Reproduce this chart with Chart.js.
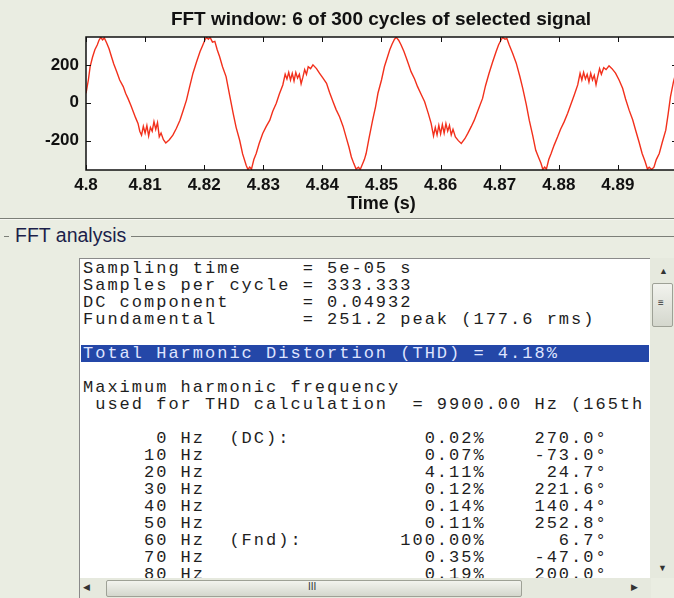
<!DOCTYPE html>
<html>
<head>
<meta charset="utf-8">
<script src="https://cdn.jsdelivr.net/npm/chart.js@4.4.0/dist/chart.umd.min.js"></script>
<style>
  body { margin:0; width:674px; height:598px; overflow:hidden; background:#eaede2; position:relative; font-family:"Liberation Sans", Arial, sans-serif; }
  #plot { position:absolute; left:0; top:0; width:762px; height:215px; }
  .hline { position:absolute; height:1px; background:#7c7f78; }
  #grp { position:absolute; left:15px; top:223px; font-size:19.5px; color:#1c1f4a; line-height:24px; }
  #box { position:absolute; left:79px; top:258px; width:570px; height:320px; background:#fff; border-top:1px solid #8a8a8a; border-left:1px solid #8a8a8a; overflow:hidden; }
  #txt { margin:0; padding:1px 0 0 3px; font-family:"Liberation Mono","Courier New",monospace; font-size:17px; letter-spacing:2px; line-height:17px; color:#1e1e1e; white-space:pre; }
  #txt .hl { background:#2447a8; color:#dfe4ff; margin-left:-2px; padding-left:2px; width:566px; }
  #vbar { position:absolute; left:650px; top:258px; width:24px; height:320px; background:#e6e9de; }
  #hbar { position:absolute; left:79px; top:578px; width:571px; height:20px; background:#e6e9de; border-left:1px solid #8a8a8a; }
  .thumb { position:absolute; background:linear-gradient(#f2f3ee,#d4d7cd); border:1px solid #9ea196; border-radius:2px; }
  .arr { position:absolute; font-size:9px; color:#333; }
</style>
</head>
<body>
<div id="plot"><canvas id="c" width="762" height="215"></canvas></div>

<div class="hline" style="left:0;top:218px;width:674px;"></div>
<div class="hline" style="left:0;top:219px;width:674px;background:#f6f7f2;"></div>
<div class="hline" style="left:4px;top:236px;width:5px;"></div>
<div id="grp">FFT analysis</div>
<div class="hline" style="left:131px;top:236px;width:543px;"></div>

<div id="box"><pre id="txt"></pre></div>
<div id="vbar">
  <div class="arr" style="left:9px;top:8px;">&#9650;</div>
  <div class="thumb" style="left:2px;top:25px;width:19px;height:42px;"></div>
  <div class="arr" style="left:8px;top:39px;font-size:10px;">&#8801;</div>
  <div class="arr" style="left:8px;top:305px;">&#9660;</div>
</div>
<div id="hbar">
  <div class="arr" style="left:3px;top:4px;">&#9664;</div>
  <div class="thumb" style="left:26px;top:2px;width:414px;height:15px;"></div>
  <div class="arr" style="left:228px;top:3px;font-size:10px;">III</div>
  <div class="arr" style="left:551px;top:4px;">&#9654;</div>
</div>

<script>
// signal (time in s, value)
const timeS = [
  4.8000,4.8004,4.8007,4.8011,4.8015,4.8019,4.8022,4.8025,4.8028,4.8031,4.8035,4.8039,4.8043,4.8047,4.8052,4.8057,
  4.8063,4.8067,4.8071,4.8076,4.8080,4.8084,4.8088,4.8091,4.8094,4.8097,4.8100,4.8103,4.8106,4.8109,4.8112,4.8115,
  4.8118,4.8121,4.8124,4.8127,4.8131,4.8135,4.8141,4.8147,4.8153,4.8159,4.8164,4.8170,4.8175,4.8181,4.8187,4.8193,
  4.8197,4.8201,4.8204,4.8207,4.8210,4.8214,4.8218,4.8222,4.8226,4.8231,4.8237,4.8243,4.8249,4.8254,4.8260,4.8265,
  4.8271,4.8274,4.8277,4.8280,4.8284,4.8288,4.8293,4.8299,4.8305,4.8311,4.8316,4.8322,4.8327,4.8333,4.8337,4.8340,
  4.8343,4.8346,4.8349,4.8352,4.8355,4.8358,4.8361,4.8364,4.8367,4.8370,4.8373,4.8376,4.8380,4.8384,4.8390,4.8395,
  4.8401,4.8407,4.8412,4.8418,4.8423,4.8429,4.8435,4.8440,4.8445,4.8449,4.8453,4.8457,4.8461,4.8464,4.8467,4.8471,
  4.8474,4.8479,4.8485,4.8490,4.8494,4.8500,4.8505,4.8510,4.8514,4.8518,4.8522,4.8525,4.8529,4.8533,4.8538,4.8542,
  4.8546,4.8550,4.8556,4.8561,4.8567,4.8573,4.8579,4.8584,4.8588,4.8591,4.8594,4.8597,4.8600,4.8603,4.8606,4.8609,
  4.8612,4.8615,4.8618,4.8621,4.8625,4.8630,4.8635,4.8641,4.8646,4.8652,4.8657,4.8664,4.8671,4.8676,4.8682,4.8688,
  4.8694,4.8698,4.8702,4.8705,4.8709,4.8712,4.8716,4.8722,4.8728,4.8734,4.8739,4.8745,4.8750,4.8756,4.8761,4.8766,
  4.8770,4.8773,4.8776,4.8779,4.8783,4.8787,4.8792,4.8798,4.8803,4.8809,4.8815,4.8820,4.8826,4.8832,4.8836,4.8839,
  4.8842,4.8845,4.8848,4.8851,4.8854,4.8857,4.8860,4.8863,4.8866,4.8869,4.8872,4.8876,4.8880,4.8885,4.8890,4.8896,
  4.8902,4.8908,4.8913,4.8919,4.8925,4.8930,4.8936,4.8941,4.8946,4.8950,4.8953,4.8957,4.8961,4.8965,4.8970,4.8975,
  4.8981,4.8985,4.8989,4.8994,4.9000
];
const signalV = [
  50,120,191,240,280,305,330,345,332,342,315,285,244,205,164,120,
  85,50,23,-15,-48,-80,-109,-150,-171,-125,-160,-120,-175,-130,-150,-100,
  -140,-105,-180,-160,-195,-212,-195,-171,-135,-92,-45,14,80,156,215,270,
  300,330,345,335,345,320,324,280,244,190,138,40,-56,-130,-198,-270,
  -330,-352,-340,-350,-300,-268,-215,-162,-125,-92,-45,-3,45,94,150,125,
  160,120,155,115,160,130,150,100,135,175,150,190,180,200,180,156,
  130,103,55,5,-35,-74,-125,-180,-235,-286,-320,-350,-340,-352,-330,-300,
  -268,-185,-92,-20,50,120,191,240,280,310,335,345,330,306,270,236,
  200,164,125,85,45,5,-55,-109,-175,-130,-170,-120,-165,-115,-160,-110,
  -150,-120,-170,-140,-180,-200,-215,-190,-162,-125,-92,-35,23,90,156,215,
  270,305,330,345,335,340,306,260,209,140,76,-10,-92,-175,-251,-290,
  -321,-352,-340,-350,-300,-268,-225,-180,-140,-101,-55,-12,40,94,155,120,
  160,125,150,110,155,120,145,95,140,180,150,185,175,195,180,156,
  120,76,20,-39,-90,-145,-210,-268,-310,-350,-340,-352,-340,-300,-268,-210,
  -145,-60,32,110,180
];
const xTicks = [4.8, 4.81, 4.82, 4.83, 4.84, 4.85, 4.86, 4.87, 4.88, 4.89];
const xTickLabels = ['4.8','4.81','4.82','4.83','4.84','4.85','4.86','4.87','4.88','4.89'];
const yTicks = [-200, 0, 200];
const yTickLabels = ['-200','0','200'];

// FFT analysis text
const harmFreq  = [0, 10, 20, 30, 40, 50, 60, 70, 80];
const harmTag   = ['(DC):', '', '', '', '', '', '(Fnd):', '', ''];
const harmMag   = ['0.02','0.07','4.11','0.12','0.14','0.11','100.00','0.35','0.19'];
const harmPhase = ['270.0','-73.0','24.7','221.6','140.4','252.8','6.7','-47.0','200.0'];

var lines = [
  'Sampling time     = 5e-05 s',
  'Samples per cycle = 333.333',
  'DC component      = 0.04932',
  'Fundamental       = 251.2 peak (177.6 rms)',
  '',
  '<div class="hl">Total Harmonic Distortion (THD) = 4.18%</div>',
  '',
  'Maximum harmonic frequency',
  ' used for THD calculation  = 9900.00 Hz (165th harmonic)',
  ''
];
for (var i = 0; i < harmFreq.length; i++) {
  lines.push(String(harmFreq[i]).padStart(7) + ' Hz  ' + harmTag[i].padEnd(6) +
    (harmMag[i] + '%').padStart(15) + (harmPhase[i] + '°').padStart(10));
}
document.getElementById('txt').innerHTML = lines.map(l => l.startsWith('<div') ? l : l + '\n').join('');

const tickFont = { family: '"Liberation Sans", Arial, sans-serif', size: 17, weight: 'bold' };

const matlabAxes = {
  id: 'matlabAxes',
  beforeDraw(chart) {
    const { ctx, chartArea: a } = chart;
    ctx.save();
    ctx.fillStyle = '#ffffff';
    ctx.fillRect(a.left, a.top, a.right - a.left, a.bottom - a.top);
    ctx.restore();
  },
  afterDatasetsDraw(chart) {
    const { ctx, chartArea: a, scales } = chart;
    ctx.save();
    ctx.strokeStyle = '#111';
    ctx.lineWidth = 1.5;
    ctx.strokeRect(a.left, a.top, a.right - a.left, a.bottom - a.top);
    ctx.lineWidth = 1;
    ctx.beginPath();
    xTicks.forEach(v => {
      const x = Math.round(scales.x.getPixelForValue(v)) + 0.5;
      ctx.moveTo(x, a.bottom); ctx.lineTo(x, a.bottom - 5);
      ctx.moveTo(x, a.top); ctx.lineTo(x, a.top + 5);
    });
    yTicks.forEach(v => {
      const y = Math.round(scales.y.getPixelForValue(v)) + 0.5;
      ctx.moveTo(a.left, y); ctx.lineTo(a.left + 5, y);
      ctx.moveTo(a.right, y); ctx.lineTo(a.right - 5, y);
    });
    ctx.stroke();
    ctx.restore();
  }
};

new Chart(document.getElementById('c'), {
  type: 'line',
  data: {
    datasets: [{
      data: timeS.map((t, i) => ({ x: t, y: signalV[i] })),
      borderColor: '#f2301c',
      borderWidth: 1.4,
      pointRadius: 0,
      tension: 0
    }]
  },
  options: {
    responsive: false,
    animation: false,
    devicePixelRatio: 1,
    layout: { padding: 0 },
    plugins: {
      legend: { display: false },
      tooltip: { enabled: false },
      title: {
        display: true,
        text: 'FFT window: 6 of 300 cycles of selected signal',
        color: '#111',
        font: { family: '"Liberation Sans", Arial, sans-serif', size: 19, weight: 'bold' },
        padding: { top: 8, bottom: 6.2 }
      }
    },
    scales: {
      x: {
        type: 'linear', min: 4.8, max: 4.9,
        afterBuildTicks: s => { s.ticks = xTicks.map(v => ({ value: v })); },
        afterFit: s => { s.height = 45; },
        grid: { display: false, drawTicks: false },
        border: { display: false },
        ticks: { autoSkip: false, maxRotation: 0, padding: 5, color: '#111', font: tickFont,
                 callback: (v, i) => xTickLabels[i] },
        title: { display: true, text: 'Time (s)', color: '#111', padding: 0,
                 font: { family: '"Liberation Sans", Arial, sans-serif', size: 18, weight: 'bold' } }
      },
      y: {
        min: -355, max: 347,
        afterBuildTicks: s => { s.ticks = yTicks.map(v => ({ value: v })); },
        afterFit: s => { s.width = 86; },
        grid: { display: false, drawTicks: false },
        border: { display: false },
        ticks: { padding: 7, color: '#111', font: tickFont,
                 callback: (v, i) => yTickLabels[i] }
      },
      // empty right-hand axis: keeps the plot box at 4.8..4.9 and the title centred over it
      y2: {
        position: 'right', min: -355, max: 347,
        afterFit: s => { s.width = 85; },
        grid: { display: false, drawTicks: false },
        border: { display: false },
        ticks: { display: false }
      }
    }
  },
  plugins: [matlabAxes]
});
</script>
</body>
</html>
